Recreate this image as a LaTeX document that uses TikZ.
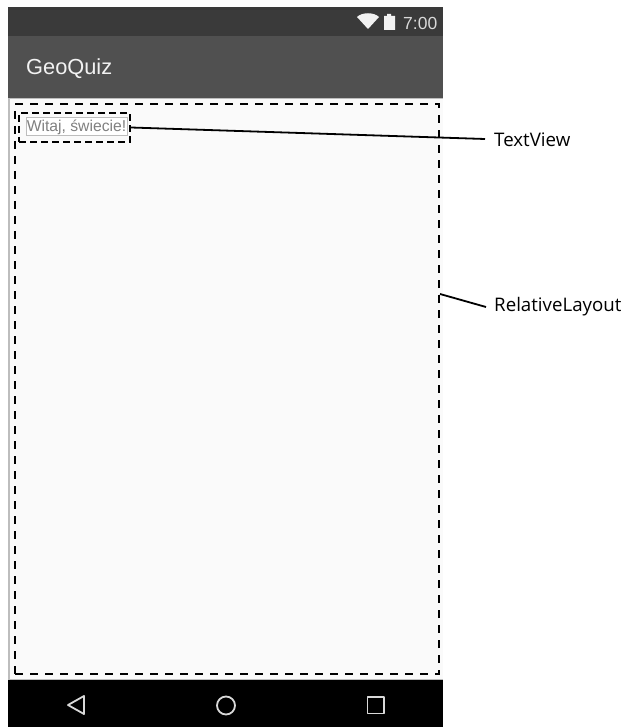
\documentclass[tikz,border=0pt]{standalone}
\usepackage{fontspec}
\setmainfont{Open Sans}
\newfontfamily\uifont{Liberation Sans}
\definecolor{statusbar}{HTML}{3A3A3A}
\definecolor{appbar}{HTML}{505050}
\definecolor{content}{HTML}{FAFAFA}
\definecolor{edge}{HTML}{BDBDBD}
\definecolor{navicon}{HTML}{D8D8D8}
\tikzset{
  dashbox/.style={draw=black,line width=2pt,dash pattern=on 8pt off 7pt,inner sep=0pt,minimum width=0pt},
  leader/.style={draw=black,line width=1.8pt},
  callout/.style={anchor=west,inner sep=0pt,font=\fontsize{18.7}{20}\selectfont,text=black},
  navstroke/.style={draw=navicon,line width=1.8pt,line join=round}
}
\begin{document}
\begin{tikzpicture}[x=1pt,y=-1pt]
\useasboundingbox[fill=white] (0,0) rectangle (622,727);
% phone screen
\fill[statusbar] (8,7) rectangle (443,36);
\fill[appbar] (8,36) rectangle (443,98);
\fill[edge] (8,98) rectangle (443,680);
\fill[content] (9.5,99.5) rectangle (443,678.5);
\fill[black] (8,680) rectangle (443,727);
\node[anchor=west,inner sep=0pt,text=white!95!black,font=\uifont\fontsize{21.8}{24}\selectfont] (title) at (26,68.5) {GeoQuiz};
% status icons
\fill[white!95!black] (357,17) .. controls (362,12) and (374,12) .. (379,17) -- (368,29) -- cycle;
\fill[white!95!black] (384,16) -- (387,16) -- (387,14) -- (391,14) -- (391,16) -- (395,16) -- (395,30) -- (384,30) -- cycle;
\node[anchor=west,inner sep=0pt,text=white!85!black,font=\uifont\fontsize{17.5}{19}\selectfont] (clock) at (403,23) {7:00};
% text view
\node[draw=edge,line width=1pt,fill=white,minimum width=101pt,minimum height=18pt,inner sep=0pt,text=black!50,font=\uifont\fontsize{15.7}{17}\selectfont] (hello) at (76.5,127) {Witaj, świecie!};
% dashed layout boxes
\node[dashbox,minimum width=424pt,minimum height=570pt] (layout) at (227,389) {};
\node[dashbox,dash pattern=on 7pt off 4pt,minimum width=111pt,minimum height=29pt] (viewbox) at (74.5,127.5) {};
% labels
\node[callout] (tv) at (494,140) {TextView};
\node[callout] (rl) at (494,307) {RelativeLayout};
\coordinate (tvstart) at (viewbox.east);
\coordinate (rlstart) at (440,294);
\draw[leader] (tvstart) -- ([xshift=-9pt,yshift=1pt]tv.west);
\draw[leader] (rlstart) -- ([xshift=-8pt]rl.west);
% navigation bar
\draw[navstroke] (84,696) -- (68,705) -- (84,714) -- cycle;
\draw[navstroke] (226,705.5) circle (9pt);
\draw[navstroke] (367.5,697) rectangle (384,713.5);
\end{tikzpicture}
\end{document}
